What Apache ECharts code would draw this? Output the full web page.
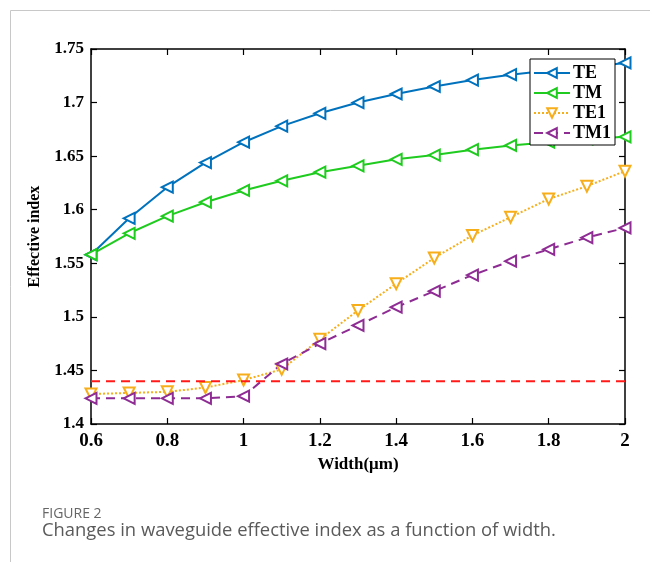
<!DOCTYPE html>
<html>
<head>
<meta charset="utf-8">
<script src="https://cdn.jsdelivr.net/npm/echarts@6/dist/echarts.min.js"></script>
<style>
  html, body { margin: 0; padding: 0; background: #fff; }
  #chart { width: 650px; height: 562px; }
</style>
</head>
<body>
<div id="chart"></div>
<script>
// Waveguide width (µm)
const widths = [0.6, 0.7, 0.8, 0.9, 1.0, 1.1, 1.2, 1.3, 1.4, 1.5, 1.6, 1.7, 1.8, 1.9, 2.0];

// Effective index per mode
const te  = [1.558, 1.592, 1.621, 1.644, 1.663, 1.678, 1.690, 1.700, 1.708, 1.715, 1.721, 1.726, 1.730, 1.733, 1.737];
const tm  = [1.558, 1.578, 1.594, 1.607, 1.618, 1.627, 1.635, 1.641, 1.647, 1.651, 1.656, 1.660, 1.663, 1.666, 1.668];
const te1 = [1.428, 1.429, 1.430, 1.434, 1.441, 1.451, 1.479, 1.506, 1.531, 1.555, 1.576, 1.593, 1.610, 1.622, 1.636];
const tm1 = [1.424, 1.424, 1.424, 1.424, 1.426, 1.456, 1.475, 1.492, 1.509, 1.524, 1.539, 1.552, 1.563, 1.574, 1.583];

// Cladding index reference level
const claddingIndex = 1.44;

const seriesNames = ['TE', 'TM', 'TE1', 'TM1'];
const xTickLabels = ['0.6', '0.8', '1', '1.2', '1.4', '1.6', '1.8', '2'];
const yTickLabels = ['1.4', '1.45', '1.5', '1.55', '1.6', '1.65', '1.7', '1.75'];

const pair = (ys) => widths.map((w, i) => [w, ys[i]]);

const serif = '"Liberation Serif", "Times New Roman", serif';

const chart = echarts.init(document.getElementById('chart'), null, { renderer: 'canvas' });

function lineSeries(name, ys, color, type, symbol, rotate) {
  return {
    name: name,
    type: 'line',
    data: pair(ys),
    symbol: symbol,
    symbolRotate: rotate,
    symbolSize: 11,
    showAllSymbol: true,
    lineStyle: { color: color, width: 2, type: type },
    itemStyle: { color: color, borderColor: color, borderWidth: 1.5 },
    emphasis: { disabled: true },
    z: 3
  };
}

const option = {
  animation: false,
  backgroundColor: '#fff',
  grid: { left: 91, right: 25, top: 49, bottom: 138, containLabel: false },
  legend: {
    data: seriesNames,
    orient: 'vertical',
    right: 35,
    top: 59,
    itemWidth: 36,
    itemHeight: 12,
    itemGap: 2,
    padding: [5, 4, 3, 3],
    backgroundColor: '#fff',
    borderColor: '#000',
    borderWidth: 1,
    textStyle: { fontFamily: serif, fontWeight: 'bold', fontSize: 18, color: '#000', padding: [0, 0, 0, -2] },
    z: 10
  },
  xAxis: [
    {
      type: 'value', min: 0.6, max: 2, interval: 0.2, position: 'bottom',
      name: 'Width(μm)', nameLocation: 'middle', nameGap: 32,
      nameTextStyle: { fontFamily: serif, fontWeight: 'bold', fontSize: 17, color: '#000' },
      axisLine: { lineStyle: { color: '#000', width: 1.5 } },
      axisTick: { inside: true, length: 6, lineStyle: { color: '#000', width: 1.2 } },
      axisLabel: { fontFamily: serif, fontWeight: 'bold', fontSize: 19, color: '#000', margin: 8,
        formatter: (v) => xTickLabels[Math.round((v - 0.6) / 0.2)] },
      splitLine: { show: false }
    },
    {
      type: 'value', min: 0.6, max: 2, interval: 0.2, position: 'top',
      axisLine: { lineStyle: { color: '#000', width: 1.5 } },
      axisTick: { inside: true, length: 6, lineStyle: { color: '#000', width: 1.2 } },
      axisLabel: { show: false },
      splitLine: { show: false }
    }
  ],
  yAxis: [
    {
      type: 'value', min: 1.4, max: 1.75, interval: 0.05, position: 'left',
      name: 'Effective index', nameLocation: 'middle', nameGap: 45, nameRotate: 90,
      nameTextStyle: { fontFamily: serif, fontWeight: 'bold', fontSize: 16, color: '#000' },
      axisLine: { show: true, lineStyle: { color: '#000', width: 1.5 } },
      axisTick: { show: true, inside: true, length: 6, lineStyle: { color: '#000', width: 1.2 } },
      axisLabel: { fontFamily: serif, fontWeight: 'bold', fontSize: 17, color: '#000', margin: 7,
        formatter: (v) => yTickLabels[Math.round((v - 1.4) / 0.05)] },
      splitLine: { show: false }
    },
    {
      type: 'value', min: 1.4, max: 1.75, interval: 0.05, position: 'right',
      axisLine: { show: true, lineStyle: { color: '#000', width: 1.5 } },
      axisTick: { show: true, inside: true, length: 6, lineStyle: { color: '#000', width: 1.2 } },
      axisLabel: { show: false },
      splitLine: { show: false }
    }
  ],
  series: [
    lineSeries('TE',  te,  '#0072BD', 'solid',  'emptyTriangle', 90),
    lineSeries('TM',  tm,  '#1ECB1E', 'solid',  'emptyTriangle', 90),
    lineSeries('TE1', te1, '#F7AE1B', 'dotted', 'emptyTriangle', 180),
    lineSeries('TM1', tm1, '#8E2C94', [9, 6],   'emptyTriangle', 90),
    {
      name: 'cladding',
      type: 'line',
      data: [[0.6, claddingIndex], [2, claddingIndex]],
      symbol: 'none',
      lineStyle: { color: '#FF1A1A', width: 2, type: [9, 6] },
      emphasis: { disabled: true },
      z: 4
    }
  ],
  graphic: [
    // figure frame
    { type: 'polyline', silent: true, shape: { points: [[650, 10.5], [10.5, 10.5], [10.5, 562]] },
      style: { stroke: '#c8c8c8', lineWidth: 1, fill: null } },
    { type: 'text', left: 42, top: 507,
      style: { text: 'FIGURE 2', font: '14px "Open Sans", sans-serif', fill: '#666' } },
    { type: 'text', left: 42, top: 522,
      style: { text: 'Changes in waveguide effective index as a function of width.',
               font: '18.4px "Open Sans", sans-serif', fill: '#5a5a5a' } }
  ]
};

chart.setOption(option);
</script>
</body>
</html>
